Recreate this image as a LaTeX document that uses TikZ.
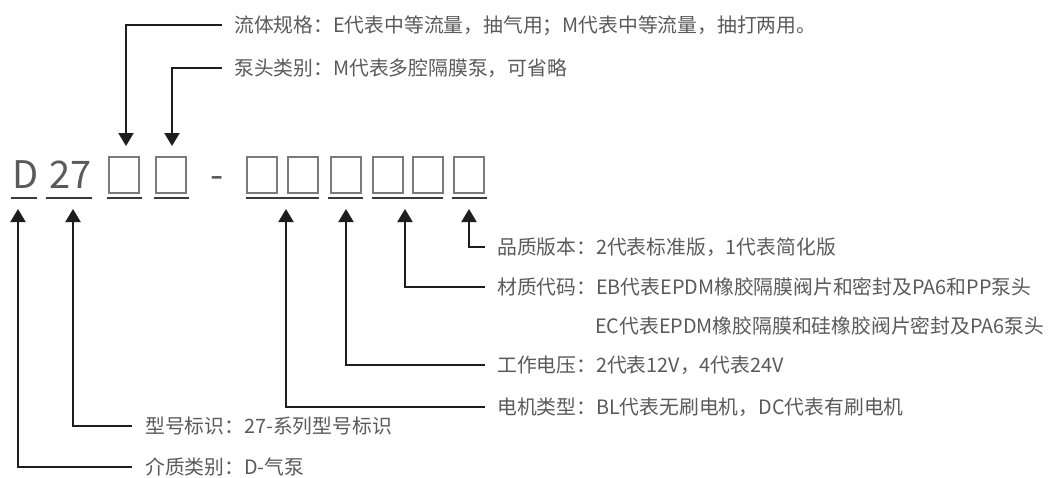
\documentclass[tikz,border=0pt]{standalone}
\usepackage{fontspec}
\setmainfont{Noto Sans CJK SC}
\usetikzlibrary{arrows.meta}
\definecolor{txt}{HTML}{5A5A5A}
\definecolor{lineC}{HTML}{1E1E1E}
\definecolor{boxC}{HTML}{7A7A7A}
\definecolor{ulC}{HTML}{3A3A3A}
\begin{document}
\begin{tikzpicture}[x=1pt,y=-1pt,
  arr/.style={line width=2pt, draw=lineC, -{Triangle[length=13pt,width=15pt,fill=lineC]}},
  lbl/.style={anchor=west, inner sep=0pt, text=txt, font=\fontsize{19.8}{24}\selectfont, text height=17.4pt, text depth=2.5pt},
  box/.style={draw=boxC, line width=1.8pt, minimum width=30pt, minimum height=36pt, inner sep=0pt},
  ul/.style={draw=ulC, line width=2pt},
  big/.style={text=txt, font=\fontsize{38}{40}\selectfont, inner sep=0pt, anchor=base}]
\useasboundingbox (0,0) rectangle (1049,477);

% code characters
\node[big] (cD) at (25.5,188) {D};
\node[big] (c27) at (70.5,188) {27};
\node[box] (b1) at (124,175) {};
\node[box] (b2) at (171,175) {};
\node[big] (dash) at (217.5,188) {-};
\node[box] (b3) at (262,175) {};
\node[box] (b4) at (303,175) {};
\node[box] (b5) at (346,175) {};
\node[box] (b6) at (388,175) {};
\node[box] (b7) at (428,175) {};
\node[box] (b8) at (469,175) {};

% underlines
\draw[ul] (11,198) -- (37,198);
\draw[ul] (46,198) -- (92,198);
\draw[ul] (107,198) -- (142,198);
\draw[ul] (154,198) -- (189,198);
\draw[ul] (246,198) -- (319,198);
\draw[ul] (328,198) -- (363,198);
\draw[ul] (372,198) -- (443,198);
\draw[ul] (452,198) -- (487,198);

% arrow tips
\coordinate (tf) at (126,146);
\coordinate (tp) at (172,146);
\coordinate (tq) at (469,209);
\coordinate (tm) at (405,209);
\coordinate (tv) at (346,209);
\coordinate (tt) at (286,209);
\coordinate (tx) at (73,209);
\coordinate (td) at (18,209);

% labels
\node[lbl] (lf) at (234,25) {流体规格：E代表中等流量，抽气用；M代表中等流量，抽打两用。};
\node[lbl] (lp) at (234,68) {泵头类别：M代表多腔隔膜泵，可省略};
\node[lbl] (lq) at (497,247) {品质版本：2代表标准版，1代表简化版};
\node[lbl] (lm) at (497,287) {材质代码：EB代表EPDM橡胶隔膜阀片和密封及PA6和PP泵头};
\node[lbl] (lm2) at (595,326) {EC代表EPDM橡胶隔膜和硅橡胶阀片密封及PA6泵头};
\node[lbl] (lv) at (497,365) {工作电压：2代表12V，4代表24V};
\node[lbl] (lt) at (497,407) {电机类型：BL代表无刷电机，DC代表有刷电机};
\node[lbl] (lx) at (145,426) {型号标识：27-系列型号标识};
\node[lbl] (ld) at (145,467) {介质类别：D-气泵};

% connectors
\draw[arr] ([xshift=-12pt]lf.west) -| (tf);
\draw[arr] ([xshift=-12pt]lp.west) -| (tp);
\draw[arr] ([xshift=-12pt]lq.west) -| (tq);
\draw[arr] ([xshift=-12pt]lm.west) -| (tm);
\draw[arr] ([xshift=-12pt]lv.west) -| (tv);
\draw[arr] ([xshift=-12pt]lt.west) -| (tt);
\draw[arr] ([xshift=-13pt]lx.west) -| (tx);
\draw[arr] ([xshift=-13pt]ld.west) -| (td);
\end{tikzpicture}
\end{document}
